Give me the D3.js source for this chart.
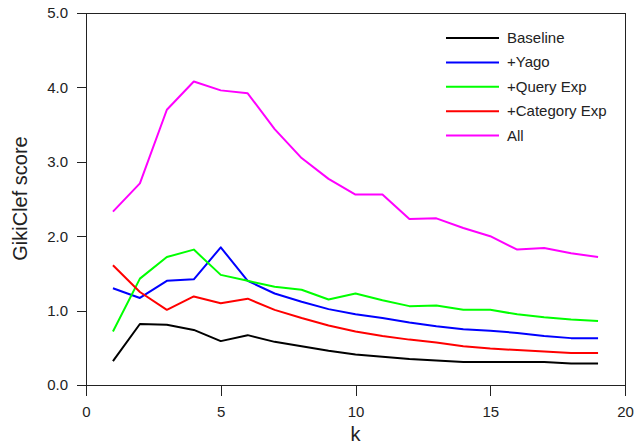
<!DOCTYPE html>
<html>
<head>
    <meta charset="utf-8">
    <title>GikiClef score</title>
    <script src="https://d3js.org/d3.v7.min.js"></script>
    <style type="text/css">
        body {
            margin: 0;
            background: #fff;
            font-family: Arial, 'Liberation Sans', sans-serif;
        }
        .axis path,
        .axis line {
            fill: none;
            stroke: #222;
            shape-rendering: crispEdges;
        }
        .axis text {
            font-family: Arial, 'Liberation Sans', sans-serif;
            font-size: 15px;
            fill: #222;
        }
        .series {
            fill: none;
            stroke-width: 2;
            stroke-linejoin: round;
        }
    </style>
</head>
<body>
<script type="text/javascript">
    // data
    const kValues = [1, 2, 3, 4, 5, 6, 7, 8, 9, 10, 11, 12, 13, 14, 15, 16, 17, 18, 19];
    const baseline = [0.32, 0.82, 0.81, 0.74, 0.59, 0.67, 0.58, 0.52, 0.46, 0.41, 0.38, 0.35, 0.33, 0.31, 0.31, 0.31, 0.31, 0.29, 0.29];
    const yago = [1.30, 1.17, 1.40, 1.42, 1.85, 1.40, 1.23, 1.12, 1.02, 0.95, 0.90, 0.84, 0.79, 0.75, 0.73, 0.70, 0.66, 0.63, 0.63];
    const queryExp = [0.72, 1.43, 1.72, 1.82, 1.48, 1.40, 1.32, 1.28, 1.15, 1.23, 1.14, 1.06, 1.07, 1.01, 1.01, 0.95, 0.91, 0.88, 0.86];
    const categoryExp = [1.61, 1.25, 1.01, 1.19, 1.10, 1.16, 1.01, 0.90, 0.80, 0.72, 0.66, 0.61, 0.57, 0.52, 0.49, 0.47, 0.45, 0.43, 0.43];
    const all = [2.33, 2.71, 3.70, 4.08, 3.96, 3.92, 3.44, 3.05, 2.77, 2.56, 2.56, 2.23, 2.24, 2.11, 2.00, 1.82, 1.84, 1.77, 1.72];
    const seriesNames = ["Baseline", "+Yago", "+Query Exp", "+Category Exp", "All"];
    const seriesColors = ["#000000", "#0000ff", "#00ff00", "#ff0000", "#ff00ff"];
    const seriesValues = [baseline, yago, queryExp, categoryExp, all];
    const xTicks = [0, 5, 10, 15, 20];
    const yTicks = [0, 1, 2, 3, 4, 5];

    // svg setup
    const svgW = 634, svgH = 444;
    const plotL = 86, plotR = 625, plotT = 13, plotB = 385;

    const svg = d3.select("body")
        .append("svg")
        .attr("width", svgW)
        .attr("height", svgH);

    const xScale = d3.scaleLinear().domain([0, 20]).range([plotL, plotR]);
    const yScale = d3.scaleLinear().domain([0, 5]).range([plotB, plotT]);

    // frame on top and right
    svg.append("path")
        .attr("d", `M${plotL},${plotT}H${plotR}V${plotB}`)
        .attr("fill", "none")
        .attr("stroke", "#222")
        .attr("shape-rendering", "crispEdges");

    // axes
    const xAxis = d3.axisBottom(xScale)
        .tickValues(xTicks)
        .tickSize(11)
        .tickSizeOuter(0)
        .tickPadding(10)
        .tickFormat(d3.format("d"));
    svg.append("g")
        .attr("class", "axis")
        .attr("transform", `translate(0,${plotB})`)
        .call(xAxis);

    const yAxis = d3.axisLeft(yScale)
        .tickValues(yTicks)
        .tickSize(9)
        .tickSizeOuter(0)
        .tickPadding(9)
        .tickFormat(d3.format(".1f"));
    svg.append("g")
        .attr("class", "axis")
        .attr("transform", `translate(${plotL},0)`)
        .call(yAxis);

    // axis labels
    svg.append("text")
        .attr("x", (plotL + plotR) / 2)
        .attr("y", 441)
        .attr("text-anchor", "middle")
        .attr("font-size", 20)
        .attr("fill", "#222")
        .text("k");

    svg.append("text")
        .attr("transform", "translate(27,198.5) rotate(-90)")
        .attr("text-anchor", "middle")
        .attr("font-size", 20)
        .attr("fill", "#222")
        .text("GikiClef score");

    // lines
    const makeLine = d3.line()
        .x((d, i) => xScale(kValues[i]))
        .y(d => yScale(d));

    seriesValues.forEach((vals, i) => {
        svg.append("path")
            .attr("class", "series")
            .attr("stroke", seriesColors[i])
            .attr("d", makeLine(vals));
    });

    // legend
    const legend = svg.append("g").attr("transform", "translate(446,38)");
    seriesNames.forEach((name, i) => {
        const row = legend.append("g").attr("transform", `translate(0,${i * 24.4})`);
        row.append("line")
            .attr("x1", 0).attr("x2", 53)
            .attr("stroke", seriesColors[i])
            .attr("stroke-width", 2);
        row.append("text")
            .attr("x", 61)
            .attr("y", 5)
            .attr("font-size", 15)
            .attr("fill", "#222")
            .text(name);
    });
</script>
</body>
</html>
